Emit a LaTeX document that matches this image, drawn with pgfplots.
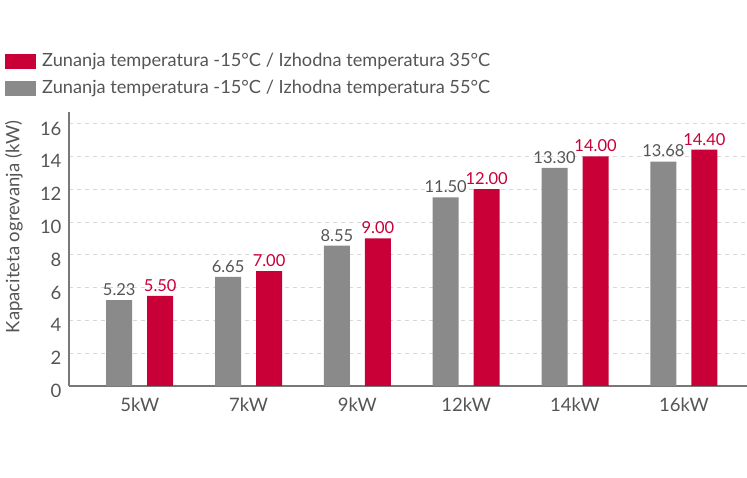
\documentclass[border=0pt]{standalone}
\usepackage{pgfplots}
\pgfplotsset{compat=1.18}
\usepackage{fontspec}
\setmainfont{Lato}
\definecolor{lgred}{RGB}{200,0,55}
\definecolor{lggray}{RGB}{138,138,138}
\definecolor{txtgray}{RGB}{85,85,85}
\definecolor{axgray}{RGB}{120,120,120}
\definecolor{gridgray}{RGB}{215,215,215}
\begin{document}
\begin{tikzpicture}[x=1pt,y=1pt]
\path[use as bounding box] (0,0) rectangle (747,478);
\begin{axis}[
  at={(69pt,92pt)}, anchor=south west,
  scale only axis, width=678pt, height=274pt,
  xmin=-0.65, xmax=5.58, ymin=0, ymax=16.7,
  axis x line*=bottom, axis y line*=left,
  axis line style={axgray, line width=1.6pt, -},
  xtick={0,1,2,3,4,5},
  xticklabels={5kW,7kW,9kW,12kW,14kW,16kW},
  ytick={0,2,4,6,8,10,12,14,16},
  major tick length=0pt,
  ymajorgrids, grid style={gridgray, dash pattern=on 4pt off 4pt, line width=0.8pt},
  tick label style={font=\fontsize{18.5}{20}\selectfont, text=txtgray},
  xticklabel style={yshift=-8pt},
  yticklabel style={yshift=-5pt, xshift=-4pt},
  /pgf/number format/assume math mode=true,
  ybar, bar width=26pt,
  nodes near coords,
  nodes near coords style={font=\fontsize{16.5}{18}\selectfont, yshift=1pt, /pgf/number format/fixed, /pgf/number format/fixed zerofill, /pgf/number format/precision=2, /pgf/number format/assume math mode=true},
  clip=false,
]
\addplot[fill=lggray, draw=none, bar shift=-20.5pt, nodes near coords style={text=txtgray}]
  coordinates {(0,5.23) (1,6.65) (2,8.55) (3,11.50) (4,13.30) (5,13.68)};
\addplot[fill=lgred, draw=none, bar shift=20.5pt, nodes near coords style={text=lgred}]
  coordinates {(0,5.50) (1,7.00) (2,9.00) (3,12.00) (4,14.00) (5,14.40)};
\end{axis}
\fill[lgred] (5,409) rectangle (36,424);
\fill[lggray] (5,382) rectangle (36,397);
\node[anchor=west, inner sep=0pt, text=txtgray, font=\fontsize{18.2}{20}\selectfont] at (42,416.5) {Zunanja temperatura -15°C / Izhodna temperatura 35°C};
\node[anchor=west, inner sep=0pt, text=txtgray, font=\fontsize{18.2}{20}\selectfont] at (42,389.5) {Zunanja temperatura -15°C / Izhodna temperatura 55°C};
\node[rotate=90, inner sep=0pt, text=txtgray, font=\fontsize{18.5}{20}\selectfont] at (14,251) {Kapaciteta ogrevanja (kW)};
\end{tikzpicture}
\end{document}
